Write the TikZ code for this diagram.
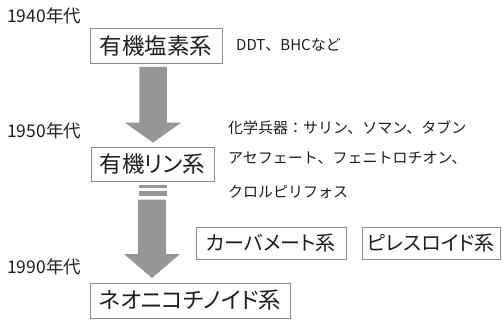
\documentclass[tikz,border=0pt]{standalone}
\usepackage{fontspec}
\setmainfont{Noto Sans CJK JP}
\newfontfamily\jpp{Noto Sans CJK JP}[RawFeature={+palt}]
\usetikzlibrary{calc}
\definecolor{arrgray}{RGB}{150,150,150}
\definecolor{boxline}{RGB}{140,140,140}
\definecolor{txt}{RGB}{30,30,30}
\tikzset{
  box/.style={draw=boxline, line width=0.9pt, fill=white, inner sep=0pt, text=txt, font=\jpp\fontsize{22.5}{22.5}\selectfont},
  sbox/.style={draw=boxline, line width=0.9pt, fill=white, inner sep=0pt, text=txt, font=\jpp\fontsize{20}{20}\selectfont},
  era/.style={anchor=west, inner sep=0pt, text=txt, font=\fontsize{17.5}{17.5}\selectfont},
  note/.style={anchor=west, inner sep=0pt, text=txt, font=\fontsize{15}{15}\selectfont},
  arrowfill/.style={fill=arrgray}
}
\begin{document}
\begin{tikzpicture}[x=1pt,y=-1pt]
\useasboundingbox (0,0) rectangle (502,321);
\fill[white] (0,0) rectangle (502,321);

% era labels
\node[era] (e1) at (7,16) {1940年代};
\node[era] (e2) at (7,131) {1950年代};
\node[era] (e3) at (7,267) {1990年代};

% boxes
\node[box, minimum width=132pt, minimum height=35pt] (b1) at (156,45.5) {有機塩素系};
\node[box, minimum width=123pt, minimum height=34pt] (b2) at (152.5,164) {有機リン系};
\node[box, minimum width=200pt, minimum height=35pt] (b3) at (190,300.5) {ネオニコチノイド系};
\node[sbox, minimum width=150pt, minimum height=32pt] (b4) at (271,243) {カーバメート系};
\node[sbox, minimum width=138pt, minimum height=32pt] (b5) at (431,243) {ピレスロイド系};

% notes
\node[note] (n1) at (236,45) {DDT、BHCなど};
\node[note] (n2) at (228,128) {化学兵器：サリン、ソマン、タブン};
\node[note] (n3) at (228,158) {アセフェート、フェニトロチオン、};
\node[note] (n4) at (228,192) {クロルピリフォス};

% arrow 1: b1 -> b2
\coordinate (a1top) at ($(b1.south)+(-3,3.5)$);
\coordinate (a1tip) at ($(b2.north)+(0.5,-4)$);
\fill[arrowfill] ($(a1top)+(-13.75,0)$) -- ($(a1top)+(13.75,0)$)
  -- ($(a1tip)+(13.75,-20)$) -- ($(a1tip)+(28.25,-20)$) -- (a1tip)
  -- ($(a1tip)+(-28.25,-20)$) -- ($(a1tip)+(-13.75,-20)$) -- cycle;

% arrow 2: b2 -> b3 (with broken top)
\coordinate (a2top) at (152,199.5);
\coordinate (a2tip) at (152,278);
\fill[arrowfill] (138.5,185) rectangle (166.5,188);
\fill[arrowfill] (138.5,190.5) rectangle (166.5,195.5);
\fill[arrowfill] ($(a2top)+(-14,0)$) -- ($(a2top)+(14,0)$)
  -- ($(a2tip)+(14,-24)$) -- ($(a2tip)+(28,-24)$) -- (a2tip)
  -- ($(a2tip)+(-28,-24)$) -- ($(a2tip)+(-14,-24)$) -- cycle;
\end{tikzpicture}
\end{document}
